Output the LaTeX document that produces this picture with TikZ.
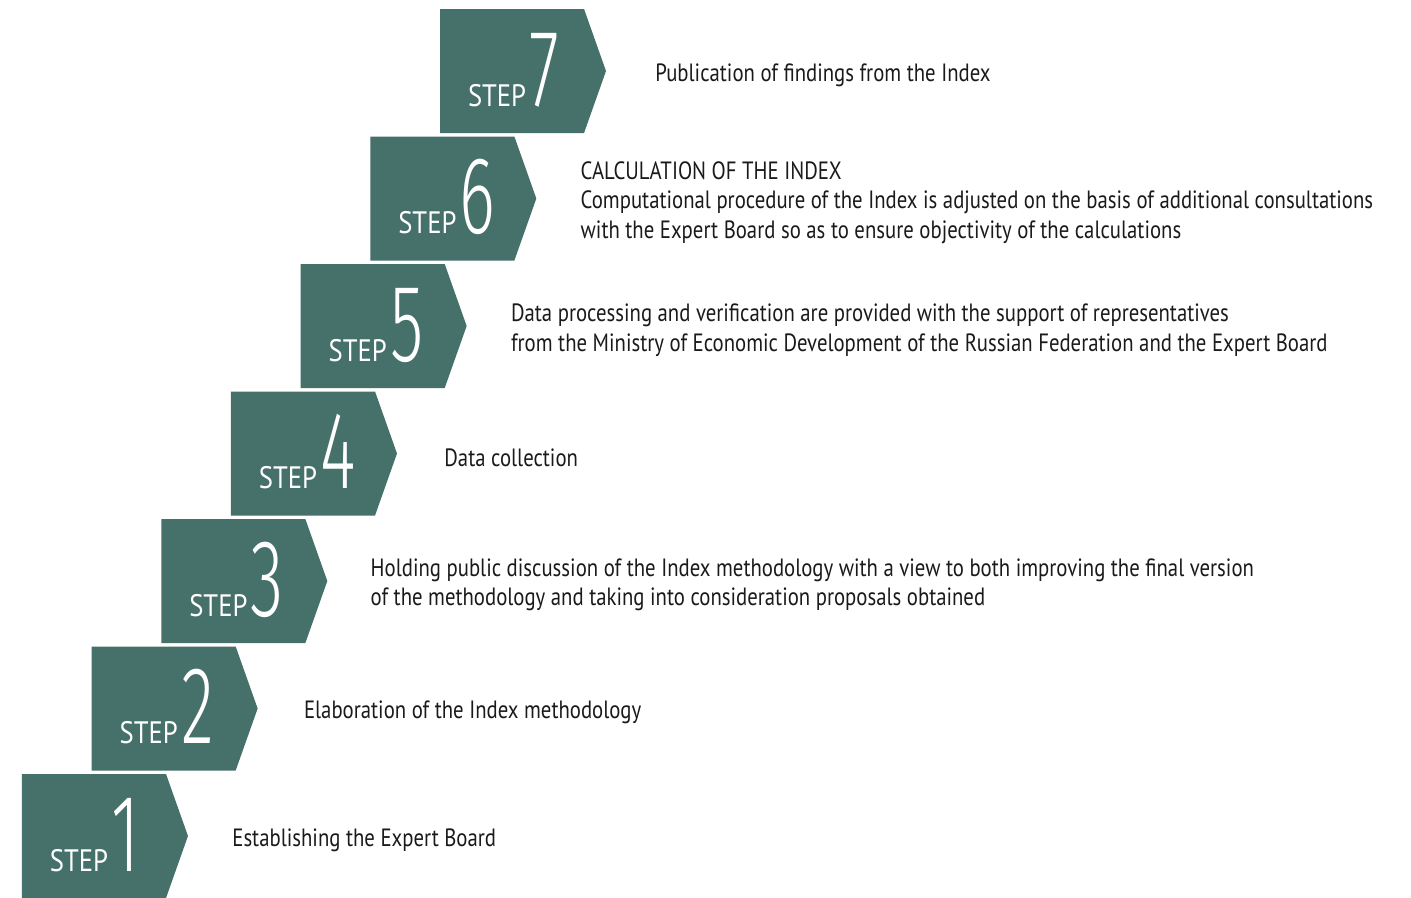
\documentclass[tikz,border=0pt]{standalone}
\usepackage{fontspec}
\setmainfont[FakeStretch=0.83]{PT Sans}
\newfontfamily\stepfont[FakeStretch=0.86]{PT Sans}
\newfontfamily\digitfont[FakeStretch=0.62]{Fira Sans Light}
\usepackage{tikz}
\usetikzlibrary{positioning,shapes.symbols}
\definecolor{stepgreen}{RGB}{70,112,106}
\definecolor{textdark}{RGB}{26,26,26}

\begin{document}
\begin{tikzpicture}[x=1pt,y=-1pt,
   stepbox/.style={shape=signal,signal to=east,fill=stepgreen,draw=none,
                   minimum width=166pt,minimum height=124pt,inner sep=0pt,
                   signal pointer angle=141},
   steplbl/.style={font=\stepfont\fontsize{31}{31}\selectfont,text=white,
                   inner sep=0pt,anchor=base west},
   stepnum/.style={font=\digitfont\fontsize{110}{110}\selectfont,text=white,
                   inner sep=0pt,anchor=base west},
   desc/.style={font=\fontsize{25}{29.5}\selectfont,text=textdark,align=left,
                inner sep=0pt,anchor=west}]
  \useasboundingbox (0,0) rectangle (1411,897);
  % the staircase
  \foreach \i in {1,...,7}{
    \node[stepbox] (s\i) at ({94+69.67*(\i-1)}, {836-127.5*(\i-1)}) {};
    \node[steplbl] (l\i) at ([xshift=28pt,yshift=-35pt]s\i.west) {STEP};
    \node[stepnum,right=3pt of l\i.base east,anchor=base west] (n\i) {\i};
  }
  % descriptions
  \node[desc,right=44pt of s1.east,yshift=-4pt] (d1) {Establishing the Expert Board};
  \node[desc,right=46pt of s2.east,yshift=-4pt] (d2) {Elaboration of the Index methodology};
  \node[desc,right=43pt of s3.east,yshift=-4pt] (d3) {Holding public discussion of the Index methodology with a view to both improving the final version\\of the methodology and taking into consideration proposals obtained};
  \node[desc,right=47pt of s4.east,yshift=-4pt] (d4) {Data collection};
  \node[desc,right=44pt of s5.east,yshift=-4pt] (d5) {Data processing and verification are provided with the support of representatives\\from the Ministry of Economic Development of the Russian Federation and the Expert Board};
  \node[desc,right=44pt of s6.east,yshift=-4pt] (d6) {CALCULATION OF THE INDEX\\Computational procedure of the Index is adjusted on the basis of additional consultations\\with the Expert Board so as to ensure objectivity of the calculations};
  \node[desc,right=49pt of s7.east,yshift=-4pt] (d7) {Publication of findings from the Index};
\end{tikzpicture}
\end{document}
